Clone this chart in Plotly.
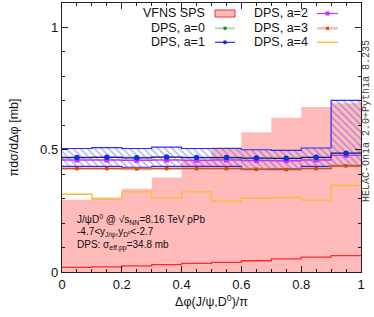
import plotly.graph_objects as go

# ---------------- data ----------------
bin_edges = [0.0, 0.1, 0.2, 0.3, 0.4, 0.5, 0.6, 0.7, 0.8, 0.9, 1.0]
bin_centers = [0.05, 0.15, 0.25, 0.35, 0.45, 0.55, 0.65, 0.75, 0.85, 0.95]

sps_upper = [0.295, 0.305, 0.340, 0.386, 0.459, 0.510, 0.571, 0.631, 0.675, 0.690]
sps_lower = [0.019, 0.021, 0.025, 0.030, 0.035, 0.039, 0.046, 0.054, 0.061, 0.067]

dps_a0 = [0.470, 0.470, 0.469, 0.470, 0.469, 0.469, 0.467, 0.466, 0.469, 0.486]
dps_a1 = [0.468, 0.469, 0.467, 0.470, 0.468, 0.468, 0.466, 0.465, 0.469, 0.486]
dps_a1_up = [0.505, 0.509, 0.505, 0.511, 0.505, 0.505, 0.500, 0.497, 0.507, 0.702]
dps_a1_lo = [0.432, 0.432, 0.428, 0.432, 0.432, 0.432, 0.421, 0.423, 0.432, 0.434]
dps_a2 = [0.458, 0.458, 0.457, 0.458, 0.457, 0.458, 0.456, 0.455, 0.458, 0.477]
dps_a3 = [0.423, 0.423, 0.422, 0.423, 0.423, 0.423, 0.420, 0.419, 0.423, 0.434]
dps_a4 = [0.318, 0.298, 0.328, 0.303, 0.328, 0.290, 0.302, 0.305, 0.294, 0.354]

x_ticks = [0, 0.2, 0.4, 0.6, 0.8, 1]
x_tick_labels = ["0", "0.2", "0.4", "0.6", "0.8", "1"]
y_ticks = [0, 0.5, 1]
y_tick_labels = ["0", "0.5", "1"]

# ---------------- geometry helpers ----------------
W, H = 374, 317
ML, MR, MT, MB = 62, 13, 3, 45
PW, PH = W - ML - MR, H - MT - MB


def px(x):
    return (x - ML) / PW


def py(y):
    return (H - MB - y) / PH


def steps(vals):
    return vals + [vals[-1]]


PINK = "rgba(255,186,186,1)"
RED = "#ff2a2a"
BLUE = "#2a2aff"
MAG = "#c832ff"
ORG = "#d04a0a"
SALMON = "rgba(230,140,100,0.55)"
YEL = "#ffb833"
GREEN = "#1a8a1a"
LGREEN = "rgba(120,200,120,0.6)"

fig = go.Figure()

# SPS band (pink fill) and lower red line
fig.add_trace(go.Scatter(x=bin_edges, y=steps(sps_upper), mode="lines", line_shape="hv",
                         line=dict(width=0, color=PINK), fill="tozeroy", fillcolor=PINK,
                         showlegend=False, hoverinfo="skip"))
fig.add_trace(go.Scatter(x=bin_edges, y=steps(sps_lower), mode="lines", line_shape="hv",
                         line=dict(width=1.3, color=RED), showlegend=False))

# a=4
fig.add_trace(go.Scatter(x=bin_edges, y=steps(dps_a4), mode="lines", line_shape="hv",
                         line=dict(width=1.3, color=YEL), showlegend=False))

# a=1 hatched band
fig.add_trace(go.Scatter(x=bin_edges, y=steps(dps_a1_lo), mode="lines", line_shape="hv",
                         line=dict(width=1.2, color=BLUE), showlegend=False))
fig.add_trace(go.Scatter(x=bin_edges, y=steps(dps_a1_up), mode="lines", line_shape="hv",
                         line=dict(width=1.2, color=BLUE), fill="tonexty",
                         fillcolor="rgba(0,0,0,0)",
                         fillpattern=dict(shape="\\", fgcolor="rgba(60,60,255,0.8)",
                                          bgcolor="rgba(0,0,0,0)", size=5, solidity=0.3),
                         showlegend=False))

# a=3 (light band + line + points)
fig.add_trace(go.Scatter(x=bin_edges, y=steps(dps_a3), mode="lines", line_shape="hv",
                         line=dict(width=3, color=SALMON), showlegend=False))
fig.add_trace(go.Scatter(x=bin_edges, y=steps(dps_a3), mode="lines", line_shape="hv",
                         line=dict(width=1, color=ORG), showlegend=False))
fig.add_trace(go.Scatter(x=bin_centers, y=dps_a3, mode="markers",
                         marker=dict(symbol="square", size=3.5, color=ORG), showlegend=False))

# a=0
fig.add_trace(go.Scatter(x=bin_edges, y=steps(dps_a0), mode="lines", line_shape="hv",
                         line=dict(width=2, color=LGREEN), showlegend=False))
fig.add_trace(go.Scatter(x=bin_centers, y=dps_a0, mode="markers",
                         marker=dict(symbol="circle", size=4, color=GREEN), showlegend=False))

# a=2
fig.add_trace(go.Scatter(x=bin_edges, y=steps(dps_a2), mode="lines", line_shape="hv",
                         line=dict(width=1.3, color=MAG), showlegend=False))
fig.add_trace(go.Scatter(x=bin_centers, y=dps_a2, mode="markers",
                         marker=dict(symbol="square", size=5, color=MAG), showlegend=False))

# a=1 central
fig.add_trace(go.Scatter(x=bin_edges, y=steps(dps_a1), mode="lines", line_shape="hv",
                         line=dict(width=1.2, color="#1a1aa0"), showlegend=False))
fig.add_trace(go.Scatter(x=bin_centers, y=dps_a1, mode="markers",
                         marker=dict(symbol="circle", size=5.5, color="#1030e0"), showlegend=False))

# ---------------- axes ----------------
axis_common = dict(showline=True, linecolor="#222", linewidth=1.2, mirror="ticks",
                   ticks="inside", ticklen=6, tickcolor="#222", tickwidth=1,
                   showgrid=False, zeroline=False, automargin=False,
                   tickfont=dict(family="Liberation Sans, Arial", size=13, color="#111"))
fig.update_xaxes(range=[0, 1], tickvals=x_ticks, ticktext=x_tick_labels,
                 minor=dict(dtick=0.05, ticks="inside", ticklen=3, tickcolor="#222", showgrid=False),
                 title=dict(text="Δφ(J/ψ,D<sup>0</sup>)/π", standoff=6,
                            font=dict(family="Liberation Sans, Arial", size=12.5, color="#111")),
                 **axis_common)
fig.update_yaxes(range=[0, 1.1], tickvals=y_ticks, ticktext=y_tick_labels,
                 minor=dict(dtick=0.1, ticks="inside", ticklen=3, tickcolor="#222", showgrid=False),
                 title=dict(text="πdσ/dΔφ [mb]", standoff=18,
                            font=dict(family="Liberation Sans, Arial", size=12.5, color="#111")),
                 **axis_common)

# ---------------- legend (manual) ----------------
LF = dict(family="Liberation Sans, Arial", size=12.5, color="#111")
shapes = []
annots = []
rows_y = [13.5, 28.3, 42.3]
col1_text_x, col1_sym = 207, (215, 235)
col2_text_x, col2_sym = 310, (317, 338)


def leg_text(xr, yr, txt):
    annots.append(dict(x=px(xr), y=py(yr), xref="paper", yref="paper", text=txt,
                       showarrow=False, xanchor="right", yanchor="middle", font=LF))


def leg_line(x0, x1, yr, color, width):
    shapes.append(dict(type="line", xref="paper", yref="paper", x0=px(x0), x1=px(x1),
                       y0=py(yr), y1=py(yr), line=dict(color=color, width=width)))


def leg_dot(xc, yr, color, r, square=False):
    shapes.append(dict(type="rect" if square else "circle", xref="paper", yref="paper",
                       x0=px(xc - r), x1=px(xc + r), y0=py(yr + r), y1=py(yr - r),
                       fillcolor=color, line=dict(width=0)))


leg_text(col1_text_x, rows_y[0], "VFNS SPS")
shapes.append(dict(type="rect", xref="paper", yref="paper", x0=px(col1_sym[0]), x1=px(col1_sym[1]),
                   y0=py(rows_y[0] + 3.5), y1=py(rows_y[0] - 3.5), fillcolor=PINK,
                   line=dict(color=RED, width=1)))
leg_text(col1_text_x, rows_y[1], "DPS, a=0")
leg_line(col1_sym[0], col1_sym[1], rows_y[1], LGREEN, 2)
leg_dot(sum(col1_sym) / 2, rows_y[1], GREEN, 1.8)
leg_text(col1_text_x, rows_y[2], "DPS, a=1")
leg_line(col1_sym[0], col1_sym[1], rows_y[2], BLUE, 1.2)
leg_dot(sum(col1_sym) / 2, rows_y[2], "#1030e0", 2)

leg_text(col2_text_x, rows_y[0], "DPS, a=2")
leg_line(col2_sym[0], col2_sym[1], rows_y[0], MAG, 1.2)
leg_dot(sum(col2_sym) / 2, rows_y[0], MAG, 2, square=True)
leg_text(col2_text_x, rows_y[1], "DPS, a=3")
leg_line(col2_sym[0], col2_sym[1], rows_y[1], SALMON, 2.5)
leg_dot(sum(col2_sym) / 2, rows_y[1], ORG, 1.5, square=True)
leg_text(col2_text_x, rows_y[2], "DPS, a=4")
leg_line(col2_sym[0], col2_sym[1], rows_y[2], YEL, 1.3)

# ---------------- text annotations ----------------
TF = dict(family="Liberation Sans, Arial", size=10, color="#111")
annots.append(dict(x=px(75), y=py(219), xref="paper", yref="paper", showarrow=False,
                   xanchor="left", yanchor="middle", font=TF,
                   text="J/ψD<sup>0</sup> @ √s<sub>NN</sub>=8.16 TeV pPb"))
annots.append(dict(x=px(75), y=py(232), xref="paper", yref="paper", showarrow=False,
                   xanchor="left", yanchor="middle", font=TF,
                   text="-4.7&lt;y<sub>J/ψ</sub>,y<sub>D⁰</sub>&lt;-2.7"))
annots.append(dict(x=px(75), y=py(245), xref="paper", yref="paper", showarrow=False,
                   xanchor="left", yanchor="middle", font=TF,
                   text="DPS: σ<sub>eff,pp</sub>=34.8 mb"))
annots.append(dict(x=px(367), y=py(121), xref="paper", yref="paper", showarrow=False,
                   xanchor="center", yanchor="middle", textangle=-90,
                   font=dict(family="Liberation Mono, DejaVu Sans Mono", size=10, color="#444"),
                   text="HELAC-Onia 2.0+Pythia 8.235"))

fig.update_layout(width=W, height=H, margin=dict(l=ML, r=MR, t=MT, b=MB, autoexpand=False),
                  paper_bgcolor="white", plot_bgcolor="white",
                  shapes=shapes, annotations=annots, showlegend=False)

fig.write_html("out.html", config={"displayModeBar": False, "staticPlot": True},
               post_script="document.body.style.margin='0';document.body.style.overflow='hidden';")
